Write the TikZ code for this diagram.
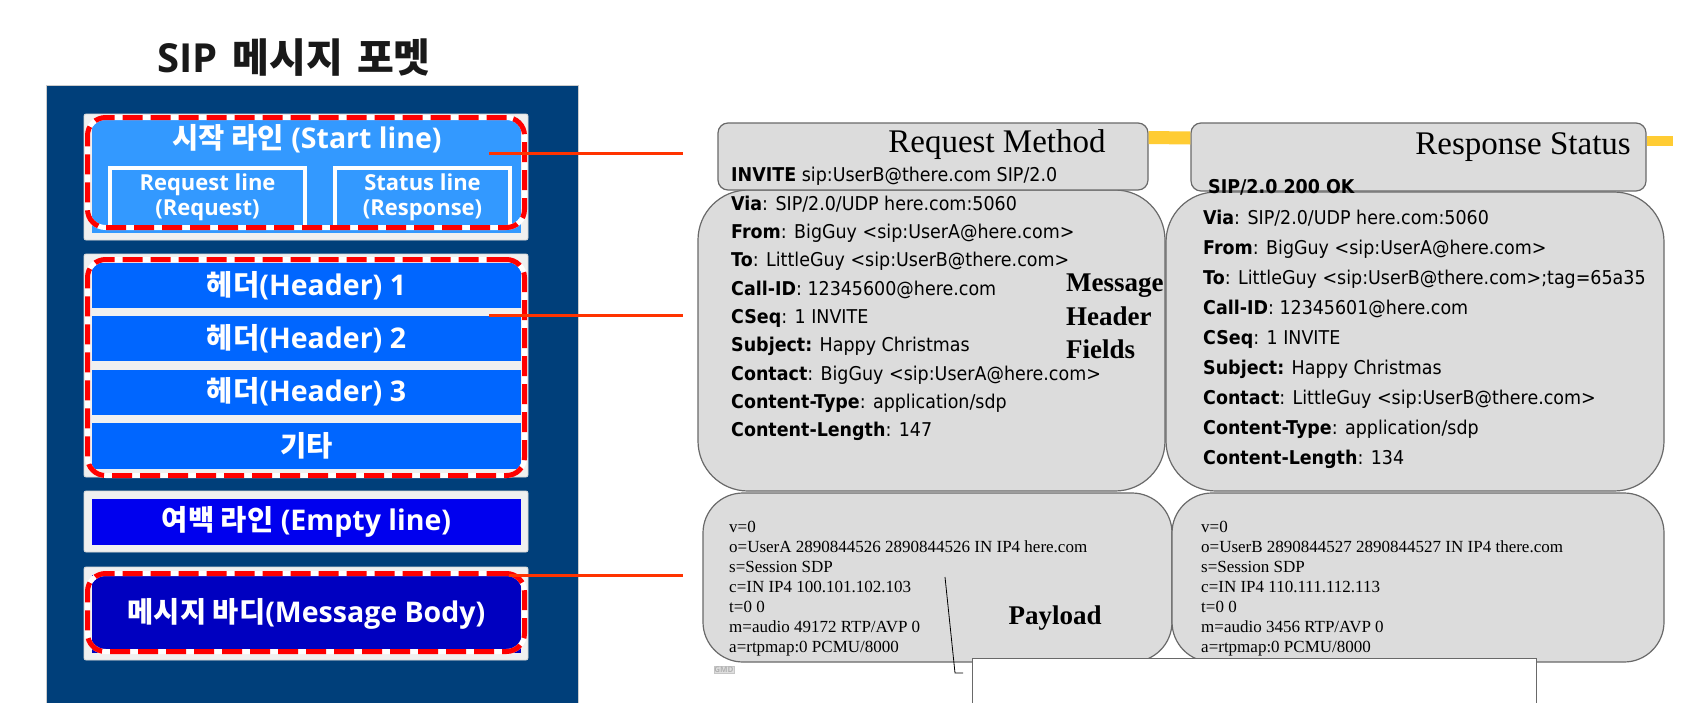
\documentclass[tikz,border=0pt]{standalone}
\usepackage{fontspec}
\usepackage{xcolor}
\usepackage{tikz}
\setmainfont{Liberation Serif}
\newfontfamily\krfont{Noto Sans CJK KR}
\newfontfamily\lsfont{Open Sans}
\newfontfamily\hdfont{DejaVu Sans}[FakeStretch=0.92]
\definecolor{panelnavy}{RGB}{0,63,122}
\definecolor{startblue}{RGB}{51,153,255}
\definecolor{hdrblue}{RGB}{0,102,255}
\definecolor{emptyblue}{RGB}{0,0,238}
\definecolor{bodyblue}{RGB}{0,0,192}
\definecolor{framegray}{RGB}{240,240,240}
\definecolor{markred}{RGB}{255,0,0}
\definecolor{linkred}{RGB}{255,51,0}
\definecolor{boxgray}{RGB}{220,220,220}
\definecolor{boxedge}{RGB}{105,105,105}
\definecolor{markyellow}{RGB}{255,204,51}

\begin{document}
\begin{tikzpicture}[x=1pt, y=-1pt, frame/.style={fill=framegray, draw=gray!30, line width=0.8pt, rounded corners=2pt, minimum width=444pt, inner sep=0pt}, bar/.style={minimum width=429pt, inner sep=0pt, text=white, font=\lsfont\bfseries\fontsize{28.5}{31}\selectfont}, subbox/.style={draw=white, line width=4pt, fill=startblue, minimum height=59pt, inner sep=0pt, align=center, text=white, font=\lsfont\bfseries\fontsize{22}{25}\selectfont}, redmark/.style={draw=markred, line width=5pt, dash pattern=on 20pt off 8pt, rounded corners=18pt, minimum width=437pt, inner sep=0pt, preaction={draw=white, line width=5pt, solid}}, link/.style={draw=linkred, line width=3pt}, msgbox/.style={draw=boxedge, fill=boxgray, line width=1.2pt, inner sep=0pt}, hilite/.style={draw=markyellow, line width=13pt}, hdrtext/.style={anchor=north west, inner sep=0pt, align=left, font=\hdfont\fontsize{19}{28.3}\selectfont}, sdptext/.style={anchor=north west, inner sep=0pt, align=left, font=\fontsize{17}{20}\selectfont}, bigserif/.style={inner sep=0pt, font=\fontsize{33}{36}\selectfont}]
\useasboundingbox (0,0) rectangle (1708,702);
\clip (0,0) rectangle (1708,702);
\fill[white] (0,0) rectangle (1708,702);
\node[font=\lsfont\bfseries\fontsize{40}{42}\selectfont, text=black!90] (title) at (294,58) {SIP\hspace{0.12em} {\krfont 메시지\hspace{0.12em} 포멧}};
\node[fill=panelnavy, draw=gray!40, minimum width=532pt, minimum height=640pt, anchor=north west, inner sep=0pt] (panel) at (46,85) {};
\node[frame, minimum height=126pt] (startframe) at (306,177) {};
\node[fill=startblue, minimum width=429pt, minimum height=113pt, inner sep=0pt] (startfill) at (306.5,176.5) {};
\node[bar] (startlabel) at (307,139) {{\krfont 시작 라인} (Start line)};
\node[subbox, minimum width=195pt] (reqline) at (207.5,197) {Request line\\(Request)};
\node[subbox, minimum width=175pt] (statline) at (422.5,197) {Status line\\(Response)};
\node[redmark, minimum height=110pt] (startmark) at (306,172.5) {};
\node[frame, minimum height=223pt] (hdrframe) at (306,365.5) {};
\node[bar, fill=hdrblue, minimum height=45pt] (hdr1) at (306.5,285.5) {{\krfont 헤더}(Header) 1};
\node[bar, fill=hdrblue, minimum height=45pt] (hdr2) at (306.5,338.5) {{\krfont 헤더}(Header) 2};
\node[bar, fill=hdrblue, minimum height=45pt] (hdr3) at (306.5,392) {{\krfont 헤더}(Header) 3};
\node[bar, fill=hdrblue, minimum height=46pt] (hdretc) at (306.5,446) {{\krfont 기타}};
\node[redmark, minimum height=216pt] (hdrmark) at (306,367.5) {};
\node[frame, minimum height=61pt] (emptyframe) at (306,521.5) {};
\node[bar, fill=emptyblue, minimum height=46pt] (emptyline) at (306.5,522) {{\krfont 여백 라인} (Empty line)};
\node[frame, minimum height=93pt] (bodyframe) at (306,613.5) {};
\node[bar, fill=bodyblue, minimum height=78pt] (bodyline) at (306.5,614) {{\krfont 메시지 바디}(Message Body)};
\node[redmark, minimum height=78pt] (bodymark) at (306,612.5) {};
\node[msgbox, rounded corners=50pt, minimum width=467pt, minimum height=301pt] (reqhdr) at (931.5,340.5) {};
\node[msgbox, rounded corners=50pt, minimum width=498pt, minimum height=299pt] (resphdr) at (1415,341.5) {};
\node[msgbox, rounded corners=10pt, minimum width=430pt, minimum height=67pt] (reqtop) at (933,156.5) {};
\node[msgbox, rounded corners=10pt, minimum width=455pt, minimum height=68pt] (resptop) at (1418.5,157) {};
\coordinate (yelend) at (1673,141);
\draw[hilite] ([yshift=19pt]reqtop.east) -- ([yshift=19pt]resptop.west);
\draw[hilite, line width=10pt] ([yshift=16pt]resptop.east) -- (yelend);
\node[bigserif, anchor=base] (reqtitle) at (997,152) {Request Method};
\node[hdrtext, anchor=base west] (reqstart) at (731,181) {\textbf{INVITE} sip:UserB@there.com SIP/2.0};
\node[bigserif, anchor=base east] (resptitle) at (1631,154) {Response Status};
\node[hdrtext, anchor=base west] (respstart) at (1208,193) {\textbf{SIP/2.0 200 OK}};
\node[hdrtext] (reqfields) at (731,195.6) {\textbf{Via}: SIP/2.0/UDP here.com:5060\\\textbf{From}: BigGuy <sip:UserA@here.com>\\\textbf{To}: LittleGuy <sip:UserB@there.com>\\\textbf{Call-ID}: 12345600@here.com\\\textbf{CSeq}: 1 INVITE\\\textbf{Subject:} Happy Christmas\\\textbf{Contact}: BigGuy <sip:UserA@here.com>\\\textbf{Content-Type}: application/sdp\\\textbf{Content-Length}: 147};
\node[hdrtext, font=\hdfont\fontsize{19}{30}\selectfont] (respfields) at (1203,209.6) {\textbf{Via}: SIP/2.0/UDP here.com:5060\\\textbf{From}: BigGuy <sip:UserA@here.com>\\\textbf{To}: LittleGuy <sip:UserB@there.com>;tag=65a35\\\textbf{Call-ID}: 12345601@here.com\\\textbf{CSeq}: 1 INVITE\\\textbf{Subject:} Happy Christmas\\\textbf{Contact}: LittleGuy <sip:UserB@there.com>\\\textbf{Content-Type}: application/sdp\\\textbf{Content-Length}: 134};
\node[anchor=north west, inner sep=0pt, align=left, font=\bfseries\fontsize{27}{33.5}\selectfont] (fieldlabel) at (1066,274) {Message\\Header\\Fields};
\node[msgbox, rounded corners=40pt, minimum width=469pt, minimum height=169pt] (reqsdp) at (937.5,577.5) {};
\node[msgbox, rounded corners=40pt, minimum width=492pt, minimum height=169pt] (respsdp) at (1418,577.5) {};
\node[sdptext] (reqsdptext) at (729,521) {v=0\\o=UserA 2890844526 2890844526 IN IP4 here.com\\s=Session SDP\\c=IN IP4 100.101.102.103\\t=0 0\\m=audio 49172 RTP/AVP 0\\a=rtpmap:0 PCMU/8000};
\node[sdptext] (respsdptext) at (1201,521) {v=0\\o=UserB 2890844527 2890844527 IN IP4 there.com\\s=Session SDP\\c=IN IP4 110.111.112.113\\t=0 0\\m=audio 3456 RTP/AVP 0\\a=rtpmap:0 PCMU/8000};
\node[font=\bfseries\fontsize{27}{30}\selectfont, anchor=base, inner sep=0pt] (payload) at (1055,624) {Payload};
\node[draw=boxedge, fill=white, line width=1pt, minimum width=564pt, minimum height=80pt, anchor=north west, inner sep=0pt] (cutbox) at (972,658) {};
\coordinate (ptrstart) at (945,577);
\coordinate (ptrbend) at (955,673);
\coordinate (ptrend) at (963,673);
\draw[line width=0.8pt] (ptrstart) -- (ptrbend) -- (ptrend);
\node[draw=gray!45, fill=gray!25, font=\lsfont\bfseries\fontsize{8}{9}\selectfont, text=gray!60, inner sep=0.5pt] (gmd) at (724,670) {GMD};
\coordinate (startlink) at (489,153);
\coordinate (startend) at (683,153);
\coordinate (hdrlink) at (489,315);
\coordinate (hdrend) at (683,315);
\coordinate (bodylink) at (509,575);
\coordinate (bodyend) at (683,575);
\draw[link] (startlink) -- (startend);
\draw[link] (hdrlink) -- (hdrend);
\draw[link] (bodylink) -- (bodyend);
\end{tikzpicture}
\end{document}
